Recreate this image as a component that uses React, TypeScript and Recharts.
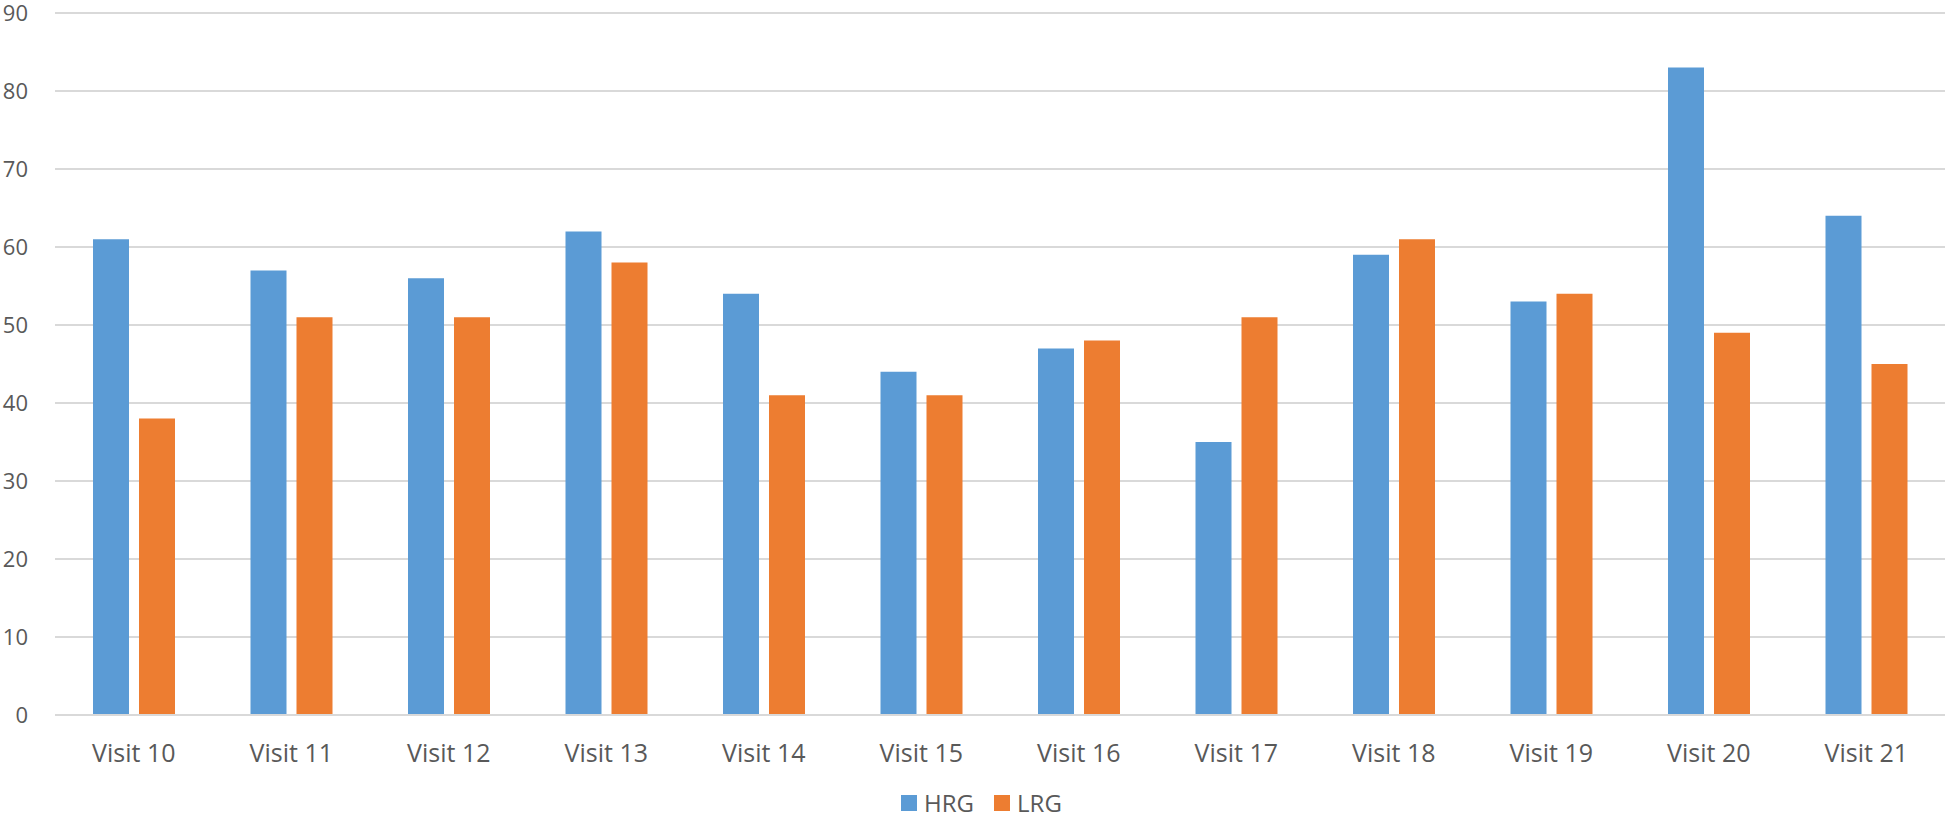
import { BarChart, Bar, XAxis, YAxis, CartesianGrid, Legend } from "recharts"

const visits = [
  "Visit 10", "Visit 11", "Visit 12", "Visit 13", "Visit 14", "Visit 15",
  "Visit 16", "Visit 17", "Visit 18", "Visit 19", "Visit 20", "Visit 21",
]
const hrg = [61, 57, 56, 62, 54, 44, 47, 35, 59, 53, 83, 64]
const lrg = [38, 51, 51, 58, 41, 41, 48, 51, 61, 54, 49, 45]
const yTicks = [0, 10, 20, 30, 40, 50, 60, 70, 80, 90]

const data = visits.map((v, i) => ({ visit: v, HRG: hrg[i], LRG: lrg[i] }))

const FONT = "'Open Sans', sans-serif"
const TEXT = "#595959"
const GRID = "#D9D9D9"

const seriesColors: Record<string, string> = { HRG: "#5B9BD5", LRG: "#ED7D31" }

function LegendContent() {
  return (
    <div style={{ display: "flex", justifyContent: "center", alignItems: "center", height: 30, paddingLeft: 18 }}>
      {Object.keys(seriesColors).map((k) => (
        <div key={k} style={{ display: "flex", alignItems: "center", margin: "0 10px" }}>
          <span style={{ width: 16, height: 16, background: seriesColors[k], marginRight: 7, display: "inline-block" }} />
          <span style={{ fontSize: 24, lineHeight: "30px", color: TEXT, fontFamily: FONT }}>{k}</span>
        </div>
      ))}
    </div>
  )
}

export default function App() {
  return (
    <div style={{ position: "absolute", left: 0, top: 0, fontFamily: FONT }}>
      <BarChart
        width={1946}
        height={818}
        data={data}
        margin={{ top: 13, right: 1, left: 0, bottom: 0 }}
        barSize={36}
        barGap={10}
      >
        <CartesianGrid vertical={false} stroke={GRID} strokeWidth={2} />
        <XAxis
          dataKey="visit"
          height={73}
          axisLine={{ stroke: GRID, strokeWidth: 2 }}
          tickLine={false}
          tickMargin={23}
          tick={{ fontSize: 25, fill: TEXT, fontFamily: FONT }}
          interval={0}
        />
        <YAxis
          width={55}
          domain={[0, 90]}
          ticks={yTicks}
          axisLine={false}
          tickLine={false}
          tickMargin={21}
          tick={{ fontSize: 22, fill: TEXT, fontFamily: FONT }}
        />
        <Legend
          verticalAlign="bottom"
          wrapperStyle={{ height: 30 }}
          content={() => <LegendContent />}
        />
        <Bar dataKey="HRG" fill={seriesColors.HRG} isAnimationActive={false} />
        <Bar dataKey="LRG" fill={seriesColors.LRG} isAnimationActive={false} />
      </BarChart>
    </div>
  )
}
